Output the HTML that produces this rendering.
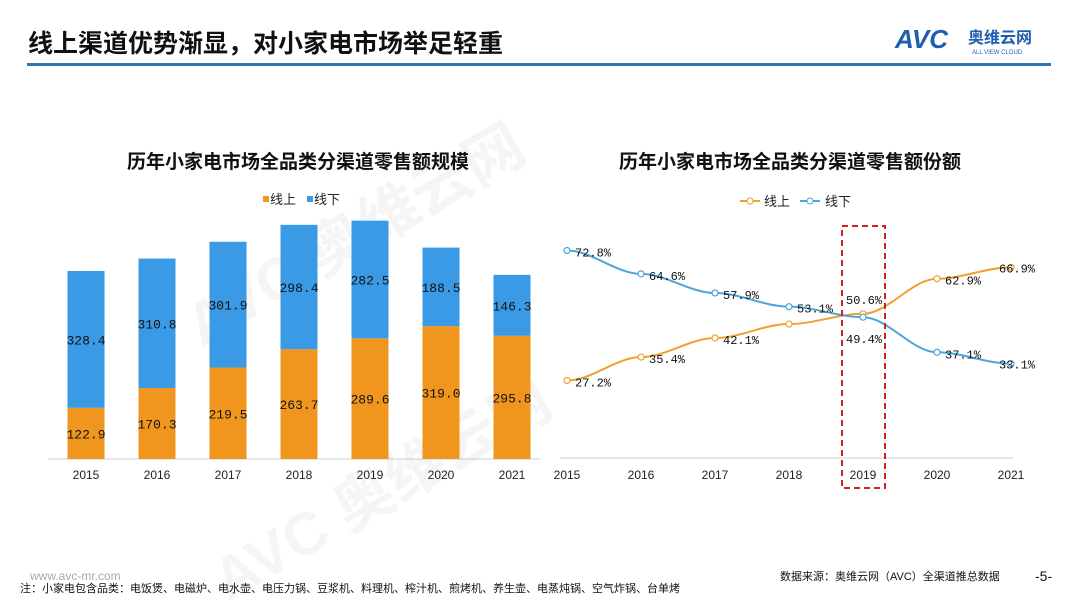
<!DOCTYPE html>
<html><head><meta charset="utf-8"><style>
html,body{margin:0;padding:0;background:#fff;width:1080px;height:600px;overflow:hidden;font-family:"Liberation Sans","Noto Sans CJK SC",sans-serif}
svg{display:block}
text{font-family:"Liberation Sans","Noto Sans CJK SC",sans-serif}
.m{font-family:"Liberation Mono","Noto Sans CJK SC",monospace}
</style></head><body>
<svg width="1080" height="600">
<g opacity="0.035" fill="#000" font-weight="bold">
<text x="170" y="270" font-size="60" transform="rotate(-30 330 250)">AVC 奥维云网</text>
<text x="190" y="500" font-size="60" transform="rotate(-30 400 480)">AVC 奥维云网</text>
</g>
<text x="28" y="52" font-size="25" font-weight="bold" fill="#111">线上渠道优势渐显，对小家电市场举足轻重</text>
<rect x="27" y="63" width="1024" height="3" fill="#2f74b5"/>
<g>
<text x="895" y="48" font-size="26" font-weight="bold" font-style="italic" fill="#1f5fb0">AVC</text>
<text x="968" y="43" font-size="16" font-weight="bold" fill="#1f5fb0">奥维云网</text>
<text x="972" y="54" font-size="6" fill="#1f5fb0">ALL VIEW CLOUD</text>
</g>
<text x="298" y="168" font-size="19" font-weight="bold" text-anchor="middle" fill="#111">历年小家电市场全品类分渠道零售额规模</text>
<text x="790" y="168" font-size="19" font-weight="bold" text-anchor="middle" fill="#111">历年小家电市场全品类分渠道零售额份额</text>
<g>
<rect x="263" y="196" width="6" height="6" fill="#f0961e"/><text x="270" y="204" font-size="13" fill="#222">线上</text>
<rect x="307" y="196" width="6" height="6" fill="#3a9ae6"/><text x="314" y="204" font-size="13" fill="#222">线下</text>
</g>
<g>
<line x1="740" y1="201" x2="760" y2="201" stroke="#f0a030" stroke-width="2"/><circle cx="750" cy="201" r="3" fill="#fff" stroke="#f0a030"/><text x="764" y="206" font-size="13" fill="#222">线上</text>
<line x1="800" y1="201" x2="820" y2="201" stroke="#4ea4dd" stroke-width="2"/><circle cx="810" cy="201" r="3" fill="#fff" stroke="#4ea4dd"/><text x="825" y="206" font-size="13" fill="#222">线下</text>
</g>
<g id="bars"></g>
<g id="lines"></g>
<rect x="842" y="226" width="43" height="262" fill="none" stroke="#d02020" stroke-width="2" stroke-dasharray="6,4"/>
<text x="30" y="580" font-size="12" fill="#aaa">www.avc-mr.com</text>
<text x="20" y="592" font-size="11" fill="#111">注：小家电包含品类：电饭煲、电磁炉、电水壶、电压力锅、豆浆机、料理机、榨汁机、煎烤机、养生壶、电蒸炖锅、空气炸锅、台单烤</text>
<text x="780" y="580" font-size="11" fill="#111">数据来源：奥维云网（AVC）全渠道推总数据</text>
<text x="1035" y="581" font-size="14" fill="#111">-5-</text>
</svg>
<script>
const years=["2015","2016","2017","2018","2019","2020","2021"];
const onlineSales=[122.9,170.3,219.5,263.7,289.6,319.0,295.8];
const offlineSales=[328.4,310.8,301.9,298.4,282.5,188.5,146.3];
const onlineShare=[27.2,35.4,42.1,47.0,50.6,62.9,66.9];
const offlineShare=[72.8,64.6,57.9,53.1,49.4,37.1,33.1];
const onlineShareLabels=["27.2%","35.4%","42.1%","","50.6%","62.9%","66.9%"];
const offlineShareLabels=["72.8%","64.6%","57.9%","53.1%","49.4%","37.1%","33.1%"];
const NS="http://www.w3.org/2000/svg";
function mk(t,a,p){const e=document.createElementNS(NS,t);for(const k in a)e.setAttribute(k,a[k]);p.appendChild(e);return e;}
const bx=i=>86+i*71, by=v=>459-v*0.4166;
const B=document.getElementById('bars');
let ax=mk('line',{x1:48,y1:459,x2:540,y2:459,stroke:'#ccc'},B);


years.forEach((y,i)=>{
 const w=37,x=bx(i)-w/2;
 let r1=mk('rect',{x:x,y:by(onlineSales[i]),width:w,height:459-by(onlineSales[i]),fill:'#f0961e'},B);
 
 
 let r2=mk('rect',{x:x,y:by(onlineSales[i]+offlineSales[i]),width:w,height:offlineSales[i]*0.4166,fill:'#3a9ae6'},B);
 
 
 let t1=mk('text',{x:bx(i),y:(by(onlineSales[i])+459)/2+5,'font-size':13,'text-anchor':'middle',fill:'#111',class:'m'},B);t1.textContent=onlineSales[i].toFixed(1);
 
 
 let t2=mk('text',{x:bx(i),y:(by(onlineSales[i])+by(onlineSales[i]+offlineSales[i]))/2+5,'font-size':13,'text-anchor':'middle',fill:'#111',class:'m'},B);t2.textContent=offlineSales[i].toFixed(1);
 
 
 let tk=mk('text',{x:bx(i),y:479,'font-size':12,'text-anchor':'middle',fill:'#222'},B);tk.textContent=y;
 
 
});
const L=document.getElementById('lines');
const lx=i=>567+i*74, ly=v=>458-v*2.85;
let ax2=mk('line',{x1:560,y1:458,x2:1013,y2:458,stroke:'#ccc'},L);


function path(d){let s='M'+lx(0)+','+ly(d[0]);for(let i=1;i<d.length;i++){const x0=lx(i-1),x1=lx(i);s+=' C'+(x0+25)+','+ly(d[i-1])+' '+(x1-25)+','+ly(d[i])+' '+x1+','+ly(d[i]);}return s;}
[[onlineShare,'#f0a030','online',onlineShareLabels],[offlineShare,'#4ea4dd','offline',offlineShareLabels]].forEach(([d,c,n,lb])=>{
 let p=mk('path',{d:path(d),fill:'none',stroke:c,'stroke-width':2},L);
 
 
 d.forEach((v,i)=>{
  let ci=mk('circle',{cx:lx(i),cy:ly(v),r:3,fill:'#fff',stroke:c,'stroke-width':1.2},L);
  
  
  if(!lb[i])return;
  let dx=8,dy=6;
  if(i==4){dx=-17;dy=n=='online'?-10:26;}
  if(i==6){dx=-12;dy=5;}
  let t=mk('text',{x:lx(i)+dx,y:ly(v)+dy,'font-size':12,fill:'#111',class:'m'},L);t.textContent=lb[i];
  
  
 });
});
years.forEach((y,i)=>{
 let tk=mk('text',{x:lx(i),y:479,'font-size':12,'text-anchor':'middle',fill:'#222'},L);tk.textContent=y;
 
 
});
</script>
</body></html>
